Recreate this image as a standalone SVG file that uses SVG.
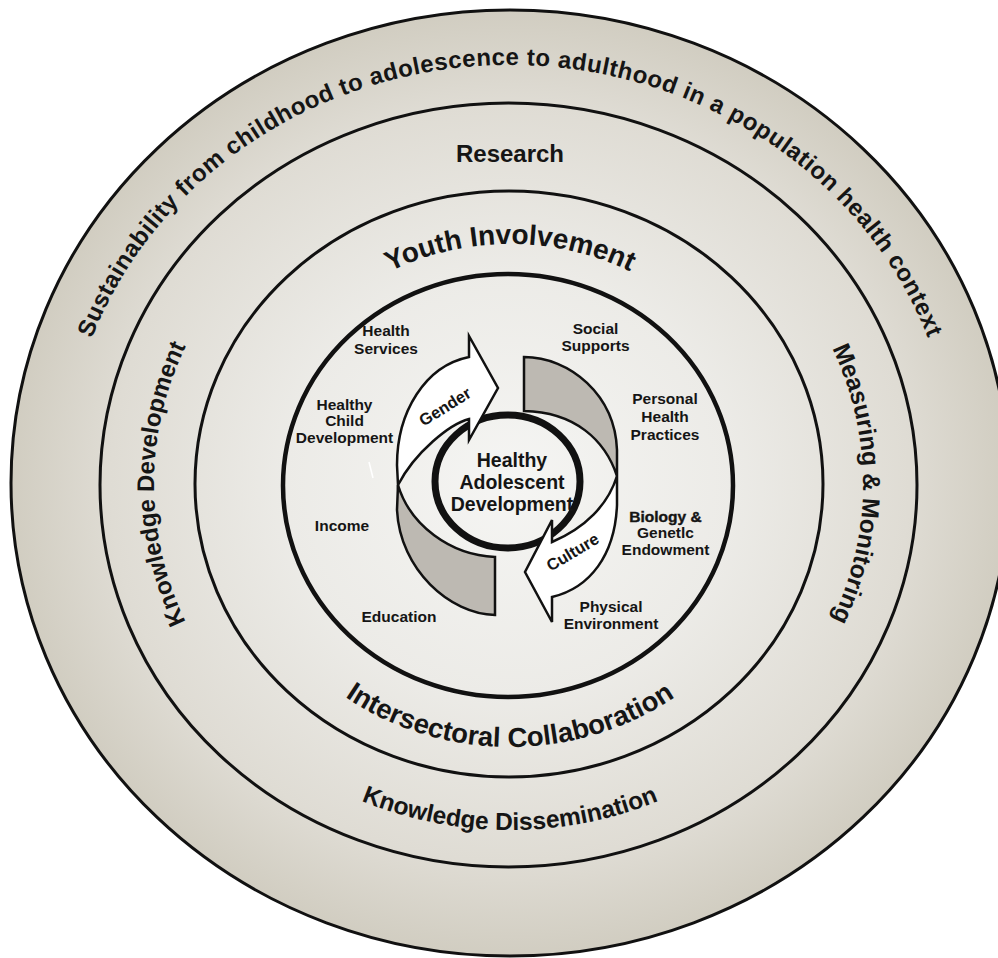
<svg xmlns="http://www.w3.org/2000/svg" width="998" height="958" viewBox="0 0 998 958">
  <defs>
    <radialGradient id="discFill" cx="50%" cy="50%" r="50%">
      <stop offset="0" stop-color="#f5f5f3"/>
      <stop offset="0.45" stop-color="#ecebe7"/>
      <stop offset="0.8" stop-color="#dfdcd4"/>
      <stop offset="1" stop-color="#d1cdc1"/>
    </radialGradient>
    <!-- baselines for the curved ring captions (each an exact half ellipse) -->
    <path id="arcOuterTop" d="M64,484 A446,419 0 0 1 956,484"/>
    <path id="arcLeft" d="M510,817 A356,333 0 0 1 510,151"/>
    <path id="arcRight" d="M510,153 A353,331 0 0 1 510,815"/>
    <path id="arcYouth" d="M252,484 A258,240 0 0 1 768,484"/>
    <path id="arcInter" d="M229,484 A281,263 0 0 0 791,484"/>
    <path id="arcDissem" d="M140,484 A370,346 0 0 0 880,484"/>
    <style>
      .ring { fill: none; stroke: #111; stroke-width: 3; }
      .ringInner { fill: none; stroke: #111; stroke-width: 4.5; }
      .core { fill: none; stroke: #111; stroke-width: 7; }
      .band { fill: #bdb9b2; stroke: #111; stroke-width: 2.5; stroke-linejoin: miter; }
      .arrow { fill: #ffffff; stroke: #111; stroke-width: 2.5; stroke-linejoin: miter; }
      text { font-family: "Liberation Sans", Arial, sans-serif; font-weight: bold; fill: #151515; }
      .lbl { font-size: 15.5px; text-anchor: middle; }
      .centre { font-size: 19.5px; text-anchor: middle; }
      .onArrow { font-size: 16.5px; text-anchor: middle; }
    </style>
  </defs>

  <rect width="998" height="958" fill="#ffffff"/>

  <!-- concentric rings -->
  <g id="rings">
    <ellipse cx="510" cy="483" rx="499" ry="473" fill="url(#discFill)" stroke="none"/>
    <ellipse class="ring" cx="510" cy="483" rx="499" ry="473"/>
    <ellipse class="ring" cx="508.5" cy="485" rx="408.5" ry="382"/>
    <ellipse class="ring" cx="509" cy="484" rx="314" ry="293"/>
    <ellipse class="ringInner" cx="508" cy="485.5" rx="225" ry="211.5"/>
  </g>

  <!-- ring captions -->
  <g id="ring-captions">
    <text style="font-size:24px" letter-spacing="0.5"><textPath href="#arcOuterTop" startOffset="50%" text-anchor="middle">Sustainability from childhood to adolescence to adulthood in a population health context</textPath></text>
    <text style="font-size:24px" x="510" y="162" text-anchor="middle">Research</text>
    <text style="font-size:28px"><textPath href="#arcYouth" startOffset="50%" text-anchor="middle">Youth Involvement</textPath></text>
    <text style="font-size:24px"><textPath href="#arcLeft" startOffset="50%" text-anchor="middle">Knowledge Development</textPath></text>
    <text style="font-size:24.5px"><textPath href="#arcRight" startOffset="50%" text-anchor="middle">Measuring &amp; Monitoring</textPath></text>
    <text style="font-size:27.5px"><textPath href="#arcInter" startOffset="50%" text-anchor="middle">Intersectoral Collaboration</textPath></text>
    <text style="font-size:24.5px"><textPath href="#arcDissem" startOffset="50%" text-anchor="middle">Knowledge Dissemination</textPath></text>
  </g>

  <!-- central node -->
  <g id="node-core">
    <ellipse class="core" cx="507.5" cy="481.5" rx="72.5" ry="66.5"/>
    <text class="centre" x="512" y="466.5">Healthy</text>
    <text class="centre" x="512" y="489">Adolescent</text>
    <text class="centre" x="512" y="510.5">Development</text>
  </g>

  <!-- twisted cycle: shaded back faces and the two arrows -->
  <g id="connectors">
    <path class="band" d="M524,357 C570,357 615,395 617,450 L617,476 C605,440 575,412 524,411 Z"/>
    <path class="band" d="M495,557 C450,555 410,525 398,485 L397,510 C400,570 450,614 495,615 Z"/>
    <g id="arrow-gender">
      <path class="arrow" d="M398,485 L397,465 C397,412 425,366 469,357 L469,336 L498,388 L469,440 L469,419 C450,424 415,452 398,485 Z"/>
      <text class="onArrow" transform="translate(448,411.5) rotate(-32)">Gender</text>
    </g>
    <g id="arrow-culture">
      <path class="arrow" d="M617,476 L617,505 C615,555 590,588 552,597 L552,622 L525,572 L552,520 L552,542 C585,528 608,505 617,476 Z"/>
      <text class="onArrow" transform="translate(575.5,557) rotate(-31)">Culture</text>
    </g>
    <path d="M369,462 L373,478" stroke="#ffffff" stroke-width="1.5" fill="none"/>
  </g>

  <!-- determinants of health around the cycle -->
  <g id="node-health-services">
    <text class="lbl" x="386" y="336" text-anchor="start">Health</text>
    <text class="lbl" x="386" y="354" text-anchor="start">Services</text>
  </g>
  <g id="node-social-supports">
    <text class="lbl" x="595.5" y="333.5">Social</text>
    <text class="lbl" x="595.5" y="351">Supports</text>
  </g>
  <g id="node-healthy-child">
    <text class="lbl" x="344.5" y="410">Healthy</text>
    <text class="lbl" x="344.5" y="426">Child</text>
    <text class="lbl" x="344.5" y="442.5">Development</text>
  </g>
  <g id="node-personal-health">
    <text class="lbl" x="665" y="404">Personal</text>
    <text class="lbl" x="665" y="422">Health</text>
    <text class="lbl" x="665" y="440">Practices</text>
  </g>
  <g id="node-income">
    <text class="lbl" x="342" y="531">Income</text>
  </g>
  <g id="node-biology">
    <text class="lbl" x="665.5" y="521.5" stroke="#151515" stroke-width="0.4">Biology &amp;</text>
    <text class="lbl" x="665.5" y="537.5">Genetlc</text>
    <text class="lbl" x="665.5" y="555">Endowment</text>
  </g>
  <g id="node-education">
    <text class="lbl" x="399" y="621.5">Education</text>
  </g>
  <g id="node-physical-environment">
    <text class="lbl" x="611" y="611.5">Physical</text>
    <text class="lbl" x="611" y="628.5">Environment</text>
  </g>
</svg>
